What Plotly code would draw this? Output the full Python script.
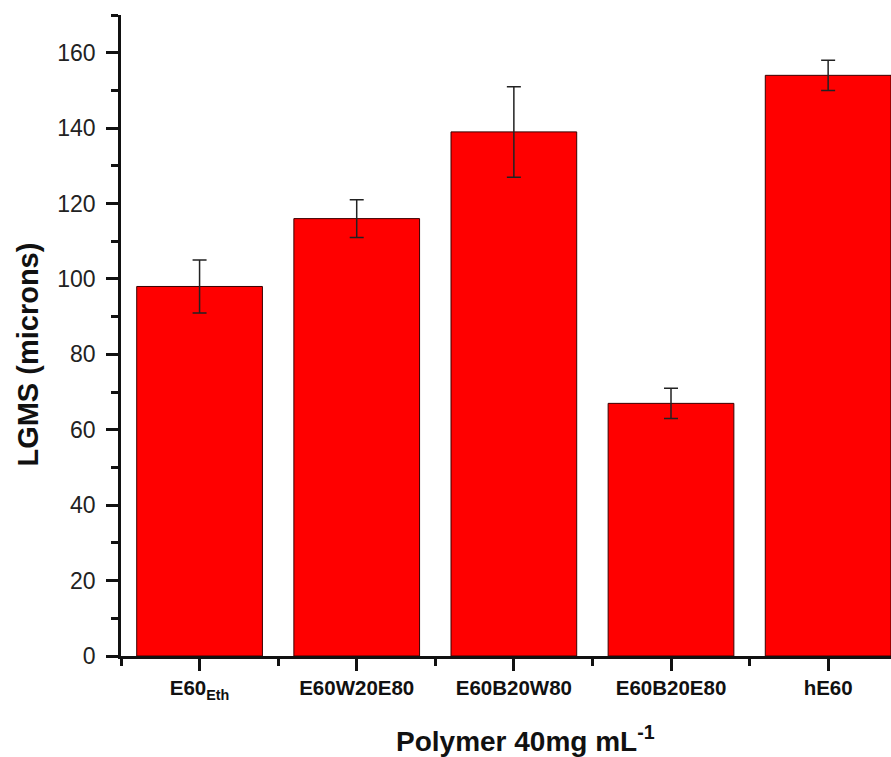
import plotly.graph_objects as go

categories = ["E60<sub>Eth</sub>", "E60W20E80", "E60B20W80", "E60B20E80", "hE60"]
lgms = [98, 116, 139, 67, 154]
lgms_err = [7, 5, 12, 4, 4]

FONT = "Liberation Sans, Arial, sans-serif"

fig = go.Figure()
fig.add_bar(
    x=list(range(len(categories))),
    y=lgms,
    width=0.8,
    marker={"color": "#FF0000", "line": {"color": "#3a0000", "width": 1}},
    error_y={
        "type": "data",
        "array": lgms_err,
        "color": "#222222",
        "thickness": 1.5,
        "width": 7,
    },
    showlegend=False,
)

fig.update_xaxes(
    range=[-0.5, 4.4],
    tickmode="array",
    tickvals=list(range(len(categories))),
    ticktext=[f"<b>{c}</b>" for c in categories],
    ticks="outside",
    ticklen=12,
    tickwidth=2.5,
    tickcolor="#111",
    minor={"tick0": 0.5, "dtick": 1, "ticks": "outside", "ticklen": 7,
           "tickwidth": 2.5, "tickcolor": "#111"},
    showline=True,
    linecolor="#111",
    linewidth=2.5,
    showgrid=False,
    zeroline=False,
    tickfont={"family": FONT, "size": 20.5, "color": "#111"},
)
fig.update_yaxes(
    range=[0, 170],
    tickmode="linear",
    tick0=0,
    dtick=20,
    ticks="outside",
    ticklen=12,
    tickwidth=2.5,
    tickcolor="#111",
    minor={"dtick": 10, "ticks": "outside", "ticklen": 7, "tickwidth": 2.5,
           "tickcolor": "#111"},
    showline=True,
    linecolor="#111",
    linewidth=2.5,
    showgrid=False,
    zeroline=False,
    ticklabelstandoff=6,
    tickfont={"family": FONT, "size": 23, "color": "#222"},
)

# axis titles as annotations: in the original they sit off the plot centre
fig.add_annotation(
    text="<b>Polymer 40mg mL<sup>-1</sup></b>",
    xref="paper", yref="paper", x=0.525, y=-0.129,
    xanchor="center", yanchor="middle", showarrow=False,
    font={"family": FONT, "size": 28, "color": "#111"},
)
fig.add_annotation(
    text="<b>LGMS (microns)</b>",
    xref="paper", yref="paper", x=-0.121, y=0.47, textangle=-90,
    xanchor="center", yanchor="middle", showarrow=False,
    font={"family": FONT, "size": 29, "color": "#111"},
)

fig.update_layout(
    width=891,
    height=757,
    margin={"l": 121, "r": 0, "t": 15, "b": 101},
    plot_bgcolor="white",
    paper_bgcolor="white",
    bargap=0.2,
)

# drop the default page margin so the figure fills the window
fig.write_html(
    "out.html",
    config={"displayModeBar": False},
    post_script="document.body.style.margin = '0';",
)
